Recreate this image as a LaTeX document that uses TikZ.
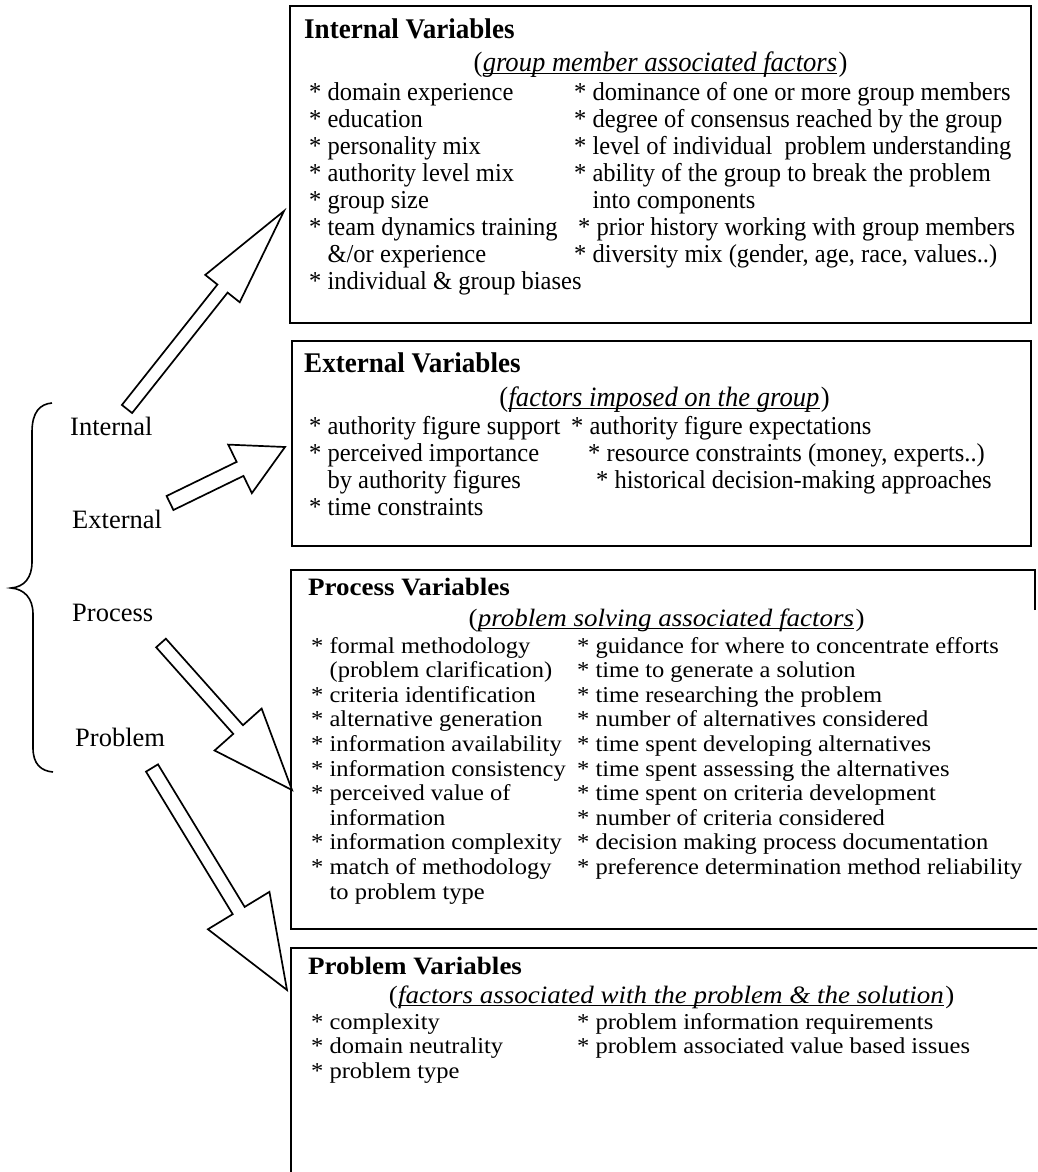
\documentclass[tikz,border=0pt]{standalone}
\usepackage{fontspec}
\usetikzlibrary{calc}
\setmainfont{Liberation Serif}
\newfontfamily\upperfam[FakeStretch=0.95]{Liberation Serif}
\newfontfamily\lowerfam[FakeStretch=1.08]{Liberation Serif}
% indentation for the continuation line of an item
\newcommand\contline{\hphantom{*\ }}
% hollow block arrow: tail, tip, shaft half-width, head half-width, head length
\newcommand\hollowarrow[5]{%
  \coordinate (#2-neck) at ($(#2)!#5!(#1)$);
  \draw[blockpen] ($(#1)!#3!90:(#2)$) -- ($(#2-neck)!#3!90:(#2)$)
    -- ($(#2-neck)!#4!90:(#2)$) -- (#2)
    -- ($(#2-neck)!#4!-90:(#2)$) -- ($(#2-neck)!#3!-90:(#2)$)
    -- ($(#1)!#3!-90:(#2)$) -- cycle;}
% underlined italic subtitle in upright parentheses: name, style, position, text
\newcommand\subtitleline[4]{%
  \node[#2] (#1) at (#3) {\itshape #4};
  \node[#2, anchor=base east] (#1-open) at (#1.base west) {(};
  \node[#2, anchor=base west, xshift=1pt] (#1-close) at (#1.base east) {)};
  \draw[ulpen] ([yshift=-2.6pt]#1.base west) -- ([yshift=-2.6pt]#1.base east);}
\tikzset{
  panel/.style={draw, line width=1.8pt, inner sep=0pt, anchor=north west},
  edgepen/.style={line width=1.8pt},
  ulpen/.style={line width=1.1pt},
  blockpen/.style={draw, line width=1.7pt, fill=white, line join=miter},
  bracepen/.style={line width=1.6pt},
  sidelabel/.style={anchor=base west, inner sep=0pt, font=\fontsize{26.5}{30}\selectfont},
  upperhead/.style={anchor=base west, inner sep=0pt, font=\upperfam\fontsize{28.5}{30}\selectfont\bfseries},
  uppersub/.style={anchor=base, inner sep=0pt, font=\upperfam\fontsize{28}{30}\selectfont},
  upperbody/.style={anchor=base west, inner sep=0pt, font=\upperfam\fontsize{25.8}{28}\selectfont},
  lowerhead/.style={anchor=base west, inner sep=0pt, font=\lowerfam\fontsize{25}{27}\selectfont\bfseries},
  lowersub/.style={anchor=base, inner sep=0pt, font=\lowerfam\fontsize{25}{27}\selectfont},
  lowerbody/.style={anchor=base west, inner sep=0pt, font=\lowerfam\fontsize{22.7}{25}\selectfont},
}
\begin{document}
\begin{tikzpicture}[x=1pt, y=-1pt]
\useasboundingbox (0,0) rectangle (1037,1172);
\clip (0,0) rectangle (1037,1172);
\fill[white] (0,0) rectangle (1037,1172);

% ---------- the four category boxes ----------
\node[panel, minimum width=741pt, minimum height=317pt] (intbox) at (289,5) {};
\node[panel, minimum width=739pt, minimum height=205pt] (extbox) at (291,340) {};
\draw[edgepen] (1035,610) -- (1035,570) -- (291,570) -- (291,929) -- (1045,929);
\coordinate (procbox) at (291,570);
\draw[edgepen] (1045,948) -- (291,948) -- (291,1180);
\coordinate (probbox) at (291,948);

% ---------- Internal Variables ----------
\node[upperhead] (ihead) at (304,39) {Internal Variables};
\subtitleline{isub}{uppersub}{660,71}{group member associated factors}
\foreach \txt [count=\i from 0] in {%
  {* domain experience},
  {* education},
  {* personality mix},
  {* authority level mix},
  {* group size},
  {* team dynamics training},
  {\contline\&/or experience},
  {* individual \& group biases}}
  \node[upperbody] (il\i) at (309, 100+27*\i) {\txt};
\foreach \sx/\txt [count=\i from 0] in {%
  574/{* dominance of one or more group members},
  574/{* degree of consensus reached by the group},
  574/{* level of individual\ \ problem understanding},
  574/{* ability of the group to break the problem},
  574/{\contline into components},
  578/{* prior history working with group members},
  574/{* diversity mix (gender, age, race, values..)}}
  \node[upperbody] (ir\i) at (\sx, 100+27*\i) {\txt};

% ---------- External Variables ----------
\node[upperhead] (ehead) at (304,372) {External Variables};
\subtitleline{esub}{uppersub}{664,406}{factors imposed on the group}
\foreach \txt [count=\i from 0] in {%
  {* authority figure support},
  {* perceived importance},
  {\contline by authority figures},
  {* time constraints}}
  \node[upperbody] (el\i) at (309, 434+27*\i) {\txt};
\foreach \sx/\txt [count=\i from 0] in {%
  571/{* authority figure expectations},
  588/{* resource constraints (money, experts..)},
  596/{* historical decision-making approaches}}
  \node[upperbody] (er\i) at (\sx, 434+27*\i) {\txt};

% ---------- Process Variables ----------
\node[lowerhead] (phead) at (308,595) {Process Variables};
\subtitleline{psub}{lowersub}{666,626}{problem solving associated factors}
\foreach \txt [count=\i from 0] in {%
  {* formal methodology},
  {\contline(problem clarification)},
  {* criteria identification},
  {* alternative generation},
  {* information availability},
  {* information consistency},
  {* perceived value of},
  {\contline information},
  {* information complexity},
  {* match of methodology},
  {\contline to problem type}}
  \node[lowerbody] (pl\i) at (311, 653+24.6*\i) {\txt};
\foreach \txt [count=\i from 0] in {%
  {* guidance for where to concentrate efforts},
  {* time to generate a solution},
  {* time researching the problem},
  {* number of alternatives considered},
  {* time spent developing alternatives},
  {* time spent assessing the alternatives},
  {* time spent on criteria development},
  {* number of criteria considered},
  {* decision making process documentation},
  {* preference determination method reliability}}
  \node[lowerbody] (pr\i) at (577, 653+24.6*\i) {\txt};

% ---------- Problem Variables ----------
\node[lowerhead] (qhead) at (308,974) {Problem Variables};
\subtitleline{qsub}{lowersub}{671,1003}{factors associated with the problem \& the solution}
\foreach \txt [count=\i from 0] in {%
  {* complexity},
  {* domain neutrality},
  {* problem type}}
  \node[lowerbody] (ql\i) at (311, 1029+24.6*\i) {\txt};
\foreach \txt [count=\i from 0] in {%
  {* problem information requirements},
  {* problem associated value based issues}}
  \node[lowerbody] (qr\i) at (577, 1029+24.6*\i) {\txt};

% ---------- brace and category labels ----------
\draw[bracepen] (52,403) .. controls (40,404) and (32,412) .. (32,432) -- (32,562)
  .. controls (32,578) and (24,587) .. (11,588)
  .. controls (24,589) and (33,598) .. (33,614) -- (33,748)
  .. controls (33,764) and (41,771) .. (53,772);
\node[sidelabel] (lint) at (70,435) {Internal};
\node[sidelabel] (lext) at (72,528) {External};
\node[sidelabel] (lproc) at (72,621) {Process};
\node[sidelabel] (lprob) at (75,746) {Problem};

% ---------- hollow arrows from the labels to the boxes ----------
\coordinate (tailA) at (127,409);  \coordinate (tipA) at (284,211);
\coordinate (tailB) at (170,503);  \coordinate (tipB) at (285,447);
\coordinate (tailC) at (161,643);  \coordinate (tipC) at (292,790);
\coordinate (tailD) at (152,768);  \coordinate (tipD) at (287,990);
\hollowarrow{tailA}{tipA}{6.5pt}{22pt}{99pt}
\hollowarrow{tailB}{tipB}{7.8pt}{27pt}{50pt}
\hollowarrow{tailC}{tipC}{6.5pt}{31.5pt}{81pt}
\hollowarrow{tailD}{tipD}{7pt}{36pt}{93pt}
\end{tikzpicture}
\end{document}
